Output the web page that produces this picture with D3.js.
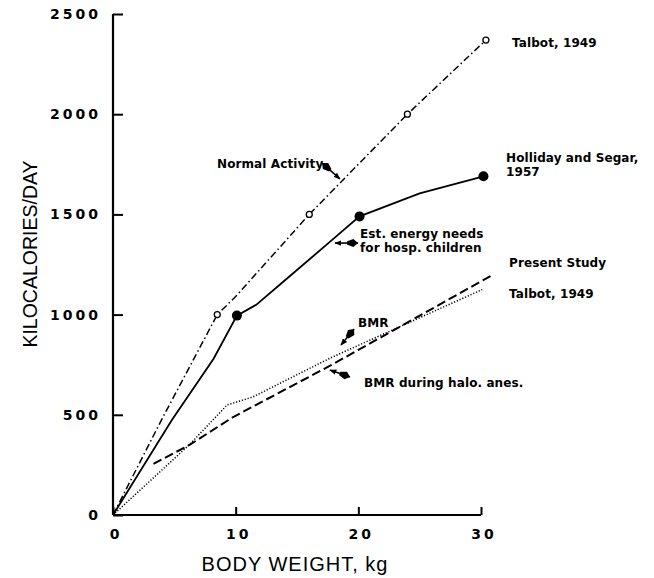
<!DOCTYPE html>
<html>
<head>
<meta charset="utf-8">
<script src="https://cdn.jsdelivr.net/npm/d3@7"></script>
<style>
  body { margin: 0; background: #fff; }
  svg { display: block; }
</style>
</head>
<body>
<script>
// body weight (kg) / kilocalories per day
var talbotActivityKg   = [0, 4, 8.5, 10, 16, 24, 30.4];
var talbotActivityKcal = [0, 480, 1000, 1090, 1500, 2000, 2370];
var talbotActivityDots = [2, 4, 5, 6];   // indices drawn with open circles

var hollidayKg   = [0, 4.8, 8.2, 10.1, 11.7, 13.9, 17.7, 20.1, 25, 30.2];
var hollidayKcal = [0, 474, 780, 995, 1050, 1165, 1364, 1490, 1605, 1690];
var hollidayDots = [3, 7, 9];

var presentKg   = [3.3, 6.3, 9.8, 17.7, 31];
var presentKcal = [255, 352, 489, 745, 1200];

var talbotBmrKg   = [0, 6.3, 9.3, 11.4, 17.7, 30.1];
var talbotBmrKcal = [0, 355, 549, 589, 783, 1125];

var xTicks = [0, 10, 20, 30];
var yTicks = [0, 500, 1000, 1500, 2000, 2500];

function main() {
    var width = 654, height = 578;

    var x = d3.scaleLinear().domain([0, 30]).range([113, 481]);
    var y = d3.scaleLinear().domain([0, 2500]).range([515, 14]);

    var svg = d3.select("body").append("svg")
        .attr("width", width).attr("height", height);

    var defs = svg.append("defs");
    defs.append("marker").attr("id", "head")
        .attr("viewBox", "0 0 10 10").attr("refX", 9).attr("refY", 5)
        .attr("markerWidth", 7).attr("markerHeight", 7)
        .attr("markerUnits", "userSpaceOnUse").attr("orient", "auto")
        .append("path").attr("d", "M0,1 L10,5 L0,9 Z").attr("fill", "#000");
    defs.append("marker").attr("id", "tail")
        .attr("viewBox", "0 0 12 10").attr("refX", 0).attr("refY", 5)
        .attr("markerWidth", 13).attr("markerHeight", 9)
        .attr("markerUnits", "userSpaceOnUse").attr("orient", "auto")
        .append("path").attr("d", "M0,5 L5,0.5 L12,3 L12,7 L5,9.5 Z").attr("fill", "#000");

    // axes
    var ax = d3.axisBottom(x).tickValues(xTicks).tickSize(-8).tickFormat("");
    svg.append("g").attr("transform", "translate(0," + y(0) + ")").call(ax)
        .call(function(g) {
            g.select(".domain").attr("d", "M" + x(0) + ",0H" + x(30)).attr("stroke-width", 2.2);
            g.selectAll(".tick line").attr("stroke-width", 2);
        });
    var ay = d3.axisLeft(y).tickValues(yTicks).tickSize(-10).tickFormat("");
    svg.append("g").attr("transform", "translate(" + x(0) + ",0)").call(ay)
        .call(function(g) {
            g.select(".domain").attr("d", "M0," + y(0) + "V" + y(2500)).attr("stroke-width", 2.2);
            g.selectAll(".tick line").attr("stroke-width", 2);
        });

    svg.selectAll("text.xt").data(xTicks).enter().append("text")
        .attr("x", function(d) { return x(d) + 3; })
        .attr("y", 539)
        .attr("text-anchor", "middle")
        .attr("font-family", "DejaVu Sans").attr("font-weight", "bold")
        .attr("font-size", "14px").attr("letter-spacing", "3px")
        .text(function(d) { return d; });

    svg.selectAll("text.yt").data(yTicks).enter().append("text")
        .attr("x", 101)
        .attr("y", function(d) { return y(d) + 5; })
        .attr("text-anchor", "end")
        .attr("font-family", "DejaVu Sans").attr("font-weight", "bold")
        .attr("font-size", "14px").attr("letter-spacing", "3px")
        .text(function(d) { return d; });

    svg.append("text")
        .attr("x", 295).attr("y", 571).attr("text-anchor", "middle")
        .attr("font-family", "Liberation Sans, Arial").attr("font-size", "20px")
        .attr("letter-spacing", "1px")
        .text("BODY WEIGHT, kg");
    svg.append("text")
        .attr("transform", "translate(37,254) rotate(-90)").attr("text-anchor", "middle")
        .attr("font-family", "Liberation Sans, Arial").attr("font-size", "19.5px")
        .text("KILOCALORIES/DAY");

    // curves
    function series(xs, ys) { return xs.map(function(d, i) { return [d, ys[i]]; }); }
    var line = d3.line().x(function(d) { return x(d[0]); }).y(function(d) { return y(d[1]); });

    var curves = [
        { pts: series(talbotActivityKg, talbotActivityKcal), dash: "7,3,1.5,3", w: 1.5 },
        { pts: series(hollidayKg, hollidayKcal), dash: null, w: 1.8 },
        { pts: series(presentKg, presentKcal), dash: "9,4", w: 2 },
        { pts: series(talbotBmrKg, talbotBmrKcal), dash: "1.2,1.8", w: 1.5 }
    ];
    svg.selectAll("path.curve").data(curves).enter().append("path")
        .attr("class", "curve")
        .attr("d", function(d) { return line(d.pts); })
        .attr("fill", "none").attr("stroke", "#000")
        .attr("stroke-width", function(d) { return d.w; })
        .attr("stroke-dasharray", function(d) { return d.dash; });

    svg.selectAll("circle.open").data(talbotActivityDots).enter().append("circle")
        .attr("cx", function(i) { return x(talbotActivityKg[i]); })
        .attr("cy", function(i) { return y(talbotActivityKcal[i]); })
        .attr("r", 3).attr("fill", "#fff").attr("stroke", "#000").attr("stroke-width", 1.3);

    svg.selectAll("circle.filled").data(hollidayDots).enter().append("circle")
        .attr("cx", function(i) { return x(hollidayKg[i]); })
        .attr("cy", function(i) { return y(hollidayKcal[i]); })
        .attr("r", 5).attr("fill", "#000");

    // labels
    var labels = [
        ["Talbot, 1949", 512, 47],
        ["Holliday and Segar,", 506, 162],
        ["1957", 506, 176],
        ["Normal Activity", 217, 168],
        ["Est. energy needs", 360, 238],
        ["for hosp. children", 360, 252],
        ["Present Study", 509, 267],
        ["Talbot, 1949", 509, 298],
        ["BMR", 358, 327],
        ["BMR during halo. anes.", 364, 387]
    ];
    svg.selectAll("text.lab").data(labels).enter().append("text")
        .attr("x", function(d) { return d[1]; })
        .attr("y", function(d) { return d[2]; })
        .attr("font-family", "DejaVu Sans").attr("font-weight", "bold")
        .attr("font-size", "12px").attr("letter-spacing", "0.1px")
        .text(function(d) { return d[0]; });

    // leader arrows, in data units: [fromKg, fromKcal, toKg, toKcal]
    var arrows = [
        [17.05, 1756, 18.5, 1677],
        [19.97, 1357, 18.1, 1357],
        [19.65, 928, 18.59, 848],
        [19.32, 689, 17.69, 723]
    ];
    svg.selectAll("line.arrow").data(arrows).enter().append("line")
        .attr("x1", function(d) { return x(d[0]); })
        .attr("y1", function(d) { return y(d[1]); })
        .attr("x2", function(d) { return x(d[2]); })
        .attr("y2", function(d) { return y(d[3]); })
        .attr("stroke", "#000").attr("stroke-width", 1.6)
        .attr("marker-start", "url(#tail)")
        .attr("marker-end", "url(#head)");
}

window.onload = main;
</script>
</body>
</html>
